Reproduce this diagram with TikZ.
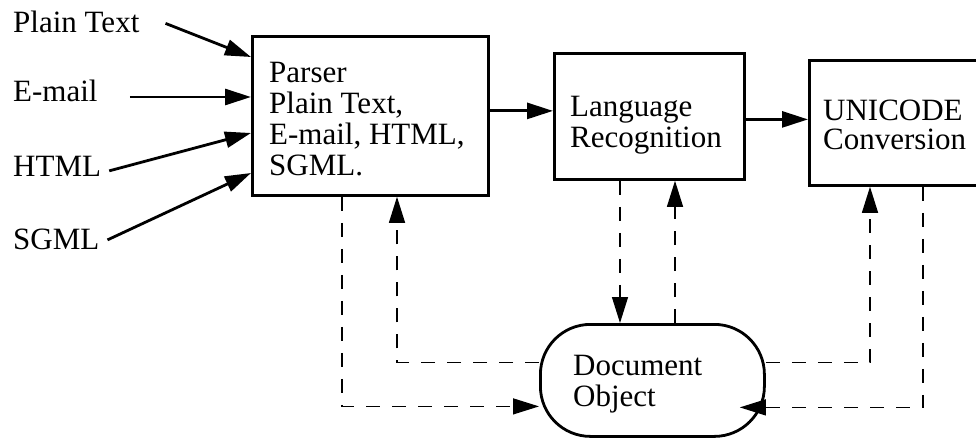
\documentclass[tikz,border=0pt]{standalone}
\usepackage{fontspec}
\setmainfont{Liberation Serif}
\usetikzlibrary{arrows.meta}
\begin{document}
\begin{tikzpicture}[x=1pt,y=-1pt,
  >={Triangle[length=26pt,width=16pt]},
  lbl/.style={font=\fontsize{31}{31}\selectfont, inner sep=0pt, align=left, anchor=north west},
  inlbl/.style={font=\fontsize{31}{31}\selectfont, inner sep=0pt, anchor=base west},
  box/.style={draw, line width=2.8pt, rectangle, inner sep=0pt, anchor=north west},
  solidarrow/.style={->, line width=2.8pt},
  dasharrow/.style={->, line width=1.3pt, dash pattern=on 14pt off 12pt}]
\useasboundingbox (0,0) rectangle (976,438);
% boxes
\node[box, minimum width=236pt, minimum height=159pt] (parser) at (251,35) {};
\node[box, minimum width=190pt, minimum height=126pt] (lang) at (553,52) {};
\node[box, minimum width=190pt, minimum height=125pt] (uni) at (808,59) {};
\node[box, minimum width=224pt, minimum height=112pt, rounded corners=50pt] (obj) at (539,323) {};
% box texts
\node[lbl] (parsertxt) at (269,62) {Parser\\Plain Text,\\E-mail, HTML,\\SGML.};
\node[lbl] (langtxt) at (570,96) {Language\\Recognition};
\node[lbl, font=\fontsize{31}{29}\selectfont] (unitxt) at (823,100) {UNICODE\\Conversion};
\node[lbl] (objtxt) at (573,355) {Document\\Object};
% input labels
\node[inlbl] (pt) at (13,33) {Plain Text};
\node[inlbl] (em) at (13,102) {E-mail};
\node[inlbl] (ht) at (13,177) {HTML};
\node[inlbl] (sg) at (13,250) {SGML};
% input arrows
\draw[solidarrow] ([xshift=26pt,yshift=-1pt]pt.east) -- ([yshift=-22pt]parser.north west);
\draw[solidarrow] ([xshift=32pt]em.east |- 0,97) -- ([yshift=-62pt]parser.north west);
\draw[solidarrow] ([xshift=8pt,yshift=-4pt]ht.east) -- ([yshift=-98pt]parser.north west);
\draw[solidarrow] ([xshift=8pt]sg.east) -- ([yshift=-138pt]parser.north west);
% main flow
\draw[solidarrow] ([yshift=5pt]parser.east) -- ([yshift=5pt]parser.east -| lang.west);
\draw[solidarrow] ([yshift=-3pt]lang.east) -- ([yshift=-3pt]lang.east -| uni.west);
% dashed connections
\draw[dasharrow] ([xshift=91pt]parser.south west) |- ([yshift=-26pt]obj.west);
\draw[dasharrow] ([yshift=18pt]obj.west) -| ([xshift=146pt]parser.south west);
\draw[dasharrow] ([xshift=67pt]lang.south west) -- ([xshift=67pt]lang.south west |- obj.north);
\draw[dasharrow] ([xshift=122pt]lang.south west |- obj.north) -- ([xshift=122pt]lang.south west);
\draw[dasharrow] ([yshift=18pt]obj.east) -| ([xshift=62pt]uni.south west);
\draw[dasharrow] ([xshift=115pt]uni.south west) |- ([xshift=-26pt,yshift=-27pt]obj.east);
\end{tikzpicture}
\end{document}
